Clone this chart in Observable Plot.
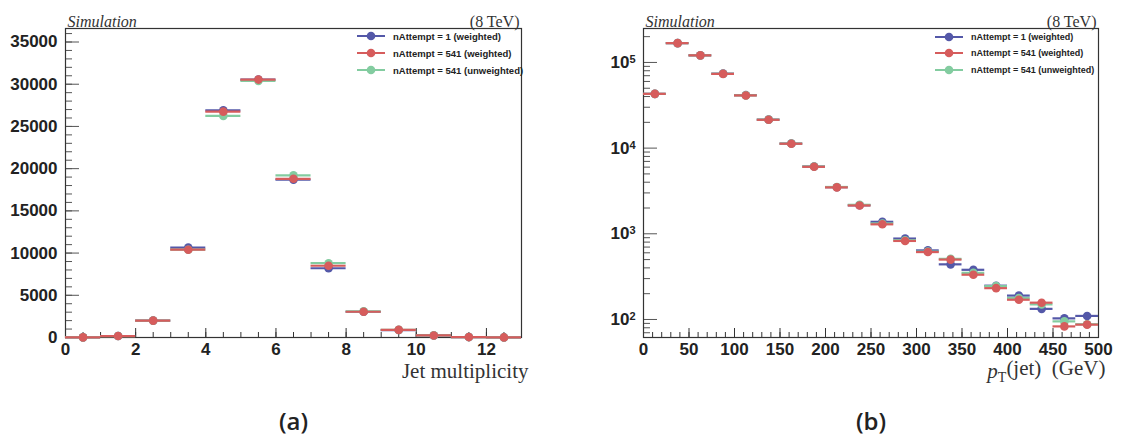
<!DOCTYPE html>
<html>
<head>
<meta charset="utf-8">
<script src="https://cdn.jsdelivr.net/npm/d3@7"></script>
<script src="https://cdn.jsdelivr.net/npm/@observablehq/plot@0.6"></script>
<style>
  body { margin: 0; background: #fff; }
  #wrap { position: relative; width: 1122px; height: 444px; overflow: hidden; background: #fff; }
  .panel { position: absolute; top: 0; }
  .leg { position: absolute; font-family: "Liberation Sans", Arial, sans-serif; font-weight: bold; color: #222; white-space: nowrap; display: flex; align-items: center; height: 12px; }
  .leg svg { display: block; }
  .leg span { margin-left: 8px; }
</style>
</head>
<body>
<div id="wrap"></div>
<script>
// ---------------- data ----------------
const seriesNames = ["nAttempt = 1 (weighted)", "nAttempt = 541 (weighted)", "nAttempt = 541 (unweighted)"];
const seriesColors = ["#5458a8", "#d65c5c", "#83cca0"];
const drawOrder = [0, 2, 1]; // blue, green, red on top

// (a) jet multiplicity, bins of width 1 starting at these edges
const jetBinLow = [0, 1, 2, 3, 4, 5, 6, 7, 8, 9, 10, 11, 12];
const jetBinWidth = 1;
const jetA1W   = [15, 180, 2000, 10650, 26900, 30550, 18700, 8200, 3050, 880, 240, 50, 10];
const jetA541W = [15, 170, 2000, 10400, 26750, 30550, 18800, 8500, 3050, 900, 240, 50, 10];
const jetA541U = [15, 170, 2000, 10400, 26250, 30400, 19200, 8800, 3100, 900, 250, 50, 10];
const jetXMajor = [0, 2, 4, 6, 8, 10, 12];
const jetYMajor = [0, 5000, 10000, 15000, 20000, 25000, 30000, 35000];

// (b) jet pT, bins of width 25 GeV
const ptBinLow = [0, 25, 50, 75, 100, 125, 150, 175, 200, 225, 250, 275, 300, 325, 350, 375, 400, 425, 450, 475];
const ptBinWidth = 25;
const ptA1W   = [43000, 168000, 121000, 74000, 41500, 21500, 11300, 6100, 3500, 2150, 1380, 880, 640, 440, 380, 248, 190, 133, 103, 110];
const ptA541W = [43000, 168000, 121000, 73500, 41200, 21400, 11250, 6050, 3480, 2140, 1290, 825, 612, 500, 333, 232, 170, 157, 83, 87];
const ptA541U = [43000, 168000, 121000, 73800, 41300, 21500, 11300, 6100, 3520, 2180, 1320, 840, 620, 510, 350, 245, 178, 150, 95, 88];
const ptXMajor = [0, 50, 100, 150, 200, 250, 300, 350, 400, 450, 500];
const ptYMajor = [1e2, 1e3, 1e4, 1e5];

// ---------------- helpers ----------------
function rows(lows, width, vals) {
  return lows.map((lo, i) => ({lo, hi: lo + width, mid: lo + width / 2, v: vals[i]}));
}
function seriesMarks(lows, width, list) {
  return drawOrder.flatMap(i => {
    const r = rows(lows, width, list[i]);
    return [
      Plot.ruleY(r, {y: "v", x1: "lo", x2: "hi", stroke: seriesColors[i], strokeWidth: 2.2}),
      Plot.dot(r, {x: "mid", y: "v", r: 4.3, fill: seriesColors[i]})
    ];
  });
}
const serif = "'Liberation Serif', 'Times New Roman', serif";
function annotations(panelLetter, xLabel) {
  return [
    Plot.text(["Simulation"], {text: d => d, frameAnchor: "top-left", dx: 2, dy: -13, textAnchor: "start",
      fontFamily: serif, fontStyle: "italic", fontWeight: "normal", fontSize: 16, fill: "#333"}),
    Plot.text(["(8 TeV)"], {text: d => d, frameAnchor: "top-right", dx: -2, dy: -13, textAnchor: "end",
      fontFamily: serif, fontWeight: "normal", fontSize: 16, fill: "#333"}),
    Plot.text([xLabel], {text: d => d, frameAnchor: "bottom-right", dx: 7, dy: 40, textAnchor: "end",
      fontFamily: serif, fontWeight: "normal", fontSize: 21, fill: "#333"}),
    Plot.text([panelLetter], {text: d => d, frameAnchor: "bottom", dy: 92,
      fontFamily: "'Open Sans', sans-serif", fontWeight: 600, fontSize: 24, fill: "#222"})
  ];
}
const baseStyle = {background: "transparent", color: "#222", fontFamily: "'Liberation Sans', Arial, sans-serif", fontSize: "17px", fontWeight: "bold", overflow: "visible"};

// ---------------- panel (a) ----------------
const jetMinorX = d3.range(0, 13.001, 0.5);
const jetMinorY = d3.range(0, 36600, 1000);
const plotA = Plot.plot({
  width: 561, height: 444,
  marginLeft: 65, marginRight: 40, marginTop: 28, marginBottom: 107,
  style: baseStyle,
  x: {domain: [0, 13], label: null},
  y: {domain: [0, 36600], label: null},
  marks: [
    Plot.axisY(jetMinorY, {tickSize: -7, tickFormat: () => "", stroke: "#555"}),
    Plot.axisY(jetYMajor, {tickSize: -14, tickPadding: 22, tickFormat: d => String(d), stroke: "#555", fontSize: 17, fontWeight: "bold"}),
    Plot.axisX(jetMinorX, {tickSize: -5, tickFormat: () => "", stroke: "#333"}),
    Plot.axisX(jetXMajor, {tickSize: -9, tickPadding: 14, tickFormat: d => String(d), stroke: "#333", fontSize: 17, fontWeight: "bold"}),
    Plot.frame({stroke: "#333", strokeWidth: 1.2}),
    ...seriesMarks(jetBinLow, jetBinWidth, [jetA1W, jetA541W, jetA541U]),
    ...annotations("(a)", "Jet multiplicity")
  ]
});

// ---------------- panel (b) ----------------
const ptMinorX = d3.range(0, 501, 10);
const ptMinorY = [];
for (let k = 1; k <= 5; k++) for (let m = 2; m <= 9; m++) { const v = m * 10 ** k; if (v > 61.6 && v < 249000) ptMinorY.push(v); }
const plotB = Plot.plot({
  width: 561, height: 444,
  marginLeft: 82, marginRight: 24, marginTop: 28, marginBottom: 107,
  style: baseStyle,
  x: {domain: [0, 500], label: null},
  y: {type: "log", domain: [61.6, 249000], label: null},
  marks: [
    Plot.axisY(ptMinorY, {tickSize: -7, tickFormat: () => "", stroke: "#555"}),
    Plot.axisY(ptYMajor, {tickSize: -14, tickPadding: 22, tickFormat: d => "10^" + Math.round(Math.log10(d)), stroke: "#555", fontSize: 17, fontWeight: "bold"}),
    Plot.axisX(ptMinorX, {tickSize: -5, tickFormat: () => "", stroke: "#333"}),
    Plot.axisX(ptXMajor, {tickSize: -9, tickPadding: 14, tickFormat: d => String(d), stroke: "#333", fontSize: 17, fontWeight: "bold"}),
    Plot.frame({stroke: "#333", strokeWidth: 1.2}),
    ...seriesMarks(ptBinLow, ptBinWidth, [ptA1W, ptA541W, ptA541U]),
    ...annotations("(b)", "pT(jet) (GeV)")
  ]
});

// ---------------- assemble ----------------
const wrap = document.getElementById("wrap");
[[plotA, 0], [plotB, 561]].forEach(([p, left]) => {
  p.classList.add("panel");
  p.style.left = left + "px";
  wrap.appendChild(p);
});

// superscripts for log ticks, italic p with subscript T
d3.select(plotB).selectAll("text").each(function () {
  const t = this.textContent;
  const m = /^10\^(\d)$/.exec(t);
  if (m) {
    this.textContent = "10";
    d3.select(this).append("tspan").attr("dy", "-0.45em").attr("font-size", "11px").text(m[1]);
  } else if (t === "pT(jet) (GeV)") {
    this.textContent = "";
    const s = d3.select(this);
    s.append("tspan").attr("font-style", "italic").text("p");
    s.append("tspan").attr("dy", "0.3em").attr("font-size", "14px").text("T");
    s.append("tspan").attr("dy", "-0.3em").text("(jet)\u00a0\u00a0(GeV)");
  }
});

// legends (built from the series arrays)
function legend(x0, rowsY, fontSize) {
  [0, 1, 2].forEach((i, k) => {
    const div = document.createElement("div");
    div.className = "leg";
    div.style.left = x0 + "px";
    div.style.top = (rowsY[k] - 6) + "px";
    div.style.fontSize = fontSize + "px";
    div.innerHTML = `<svg width="28" height="12"><line x1="0" x2="28" y1="6" y2="6" stroke="${seriesColors[i]}" stroke-width="2"/><circle cx="14" cy="6" r="4.3" fill="${seriesColors[i]}"/></svg><span>${seriesNames[i]}</span>`;
    wrap.appendChild(div);
  });
}
legend(357, [36, 53, 70], 9.5);
legend(935, [36.5, 53.3, 70], 9);
</script>
</body>
</html>
